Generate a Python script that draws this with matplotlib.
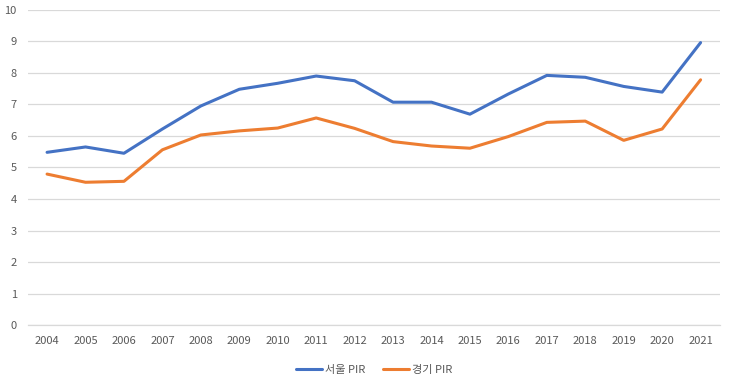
import matplotlib.pyplot as plt
from matplotlib.ticker import MultipleLocator

plt.rcParams['font.family'] = ['Noto Sans CJK KR', 'DejaVu Sans']

# 연도 및 PIR 값
years = ['2004', '2005', '2006', '2007', '2008', '2009', '2010', '2011', '2012',
         '2013', '2014', '2015', '2016', '2017', '2018', '2019', '2020', '2021']
seoul_pir = [5.48, 5.65, 5.45, 6.22, 6.95, 7.48, 7.67, 7.90, 7.75,
             7.07, 7.07, 6.69, 7.33, 7.92, 7.86, 7.57, 7.39, 8.96]
gyeonggi_pir = [4.79, 4.53, 4.56, 5.56, 6.03, 6.16, 6.25, 6.57, 6.24,
                5.82, 5.68, 5.61, 5.98, 6.43, 6.47, 5.86, 6.22, 7.78]

fig = plt.figure(figsize=(7.33, 3.78), dpi=100)
ax = fig.add_axes([0.038, 0.140, 0.944, 0.834])

x = range(len(years))
ax.plot(x, seoul_pir, color='#4472C4', linewidth=2.2, label='서울 PIR',
        solid_capstyle='round', solid_joinstyle='round')
ax.plot(x, gyeonggi_pir, color='#ED7D31', linewidth=2.2, label='경기 PIR',
        solid_capstyle='round', solid_joinstyle='round')

ax.set_xlim(-0.5, len(years) - 0.5)
ax.set_ylim(0, 10)
ax.yaxis.set_major_locator(MultipleLocator(1))
ax.set_xticks(list(x))
ax.set_xticklabels(years)

ax.grid(axis='y', color='#D9D9D9', linewidth=0.9)
ax.set_axisbelow(True)
for side in ['top', 'right', 'left']:
    ax.spines[side].set_visible(False)
ax.spines['bottom'].set_color('#D9D9D9')
ax.spines['bottom'].set_linewidth(0.9)
ax.tick_params(axis='both', length=0, labelsize=8, colors='#595959')
ax.tick_params(axis='x', pad=8)
ax.tick_params(axis='y', pad=8)

leg = ax.legend(loc='upper center', bbox_to_anchor=(0.5, -0.095), ncol=2,
                frameon=False, fontsize=8, handlelength=2.4,
                handletextpad=0.2, columnspacing=1.6)
for t in leg.get_texts():
    t.set_color('#595959')

fig.savefig('out.png', dpi=100)
